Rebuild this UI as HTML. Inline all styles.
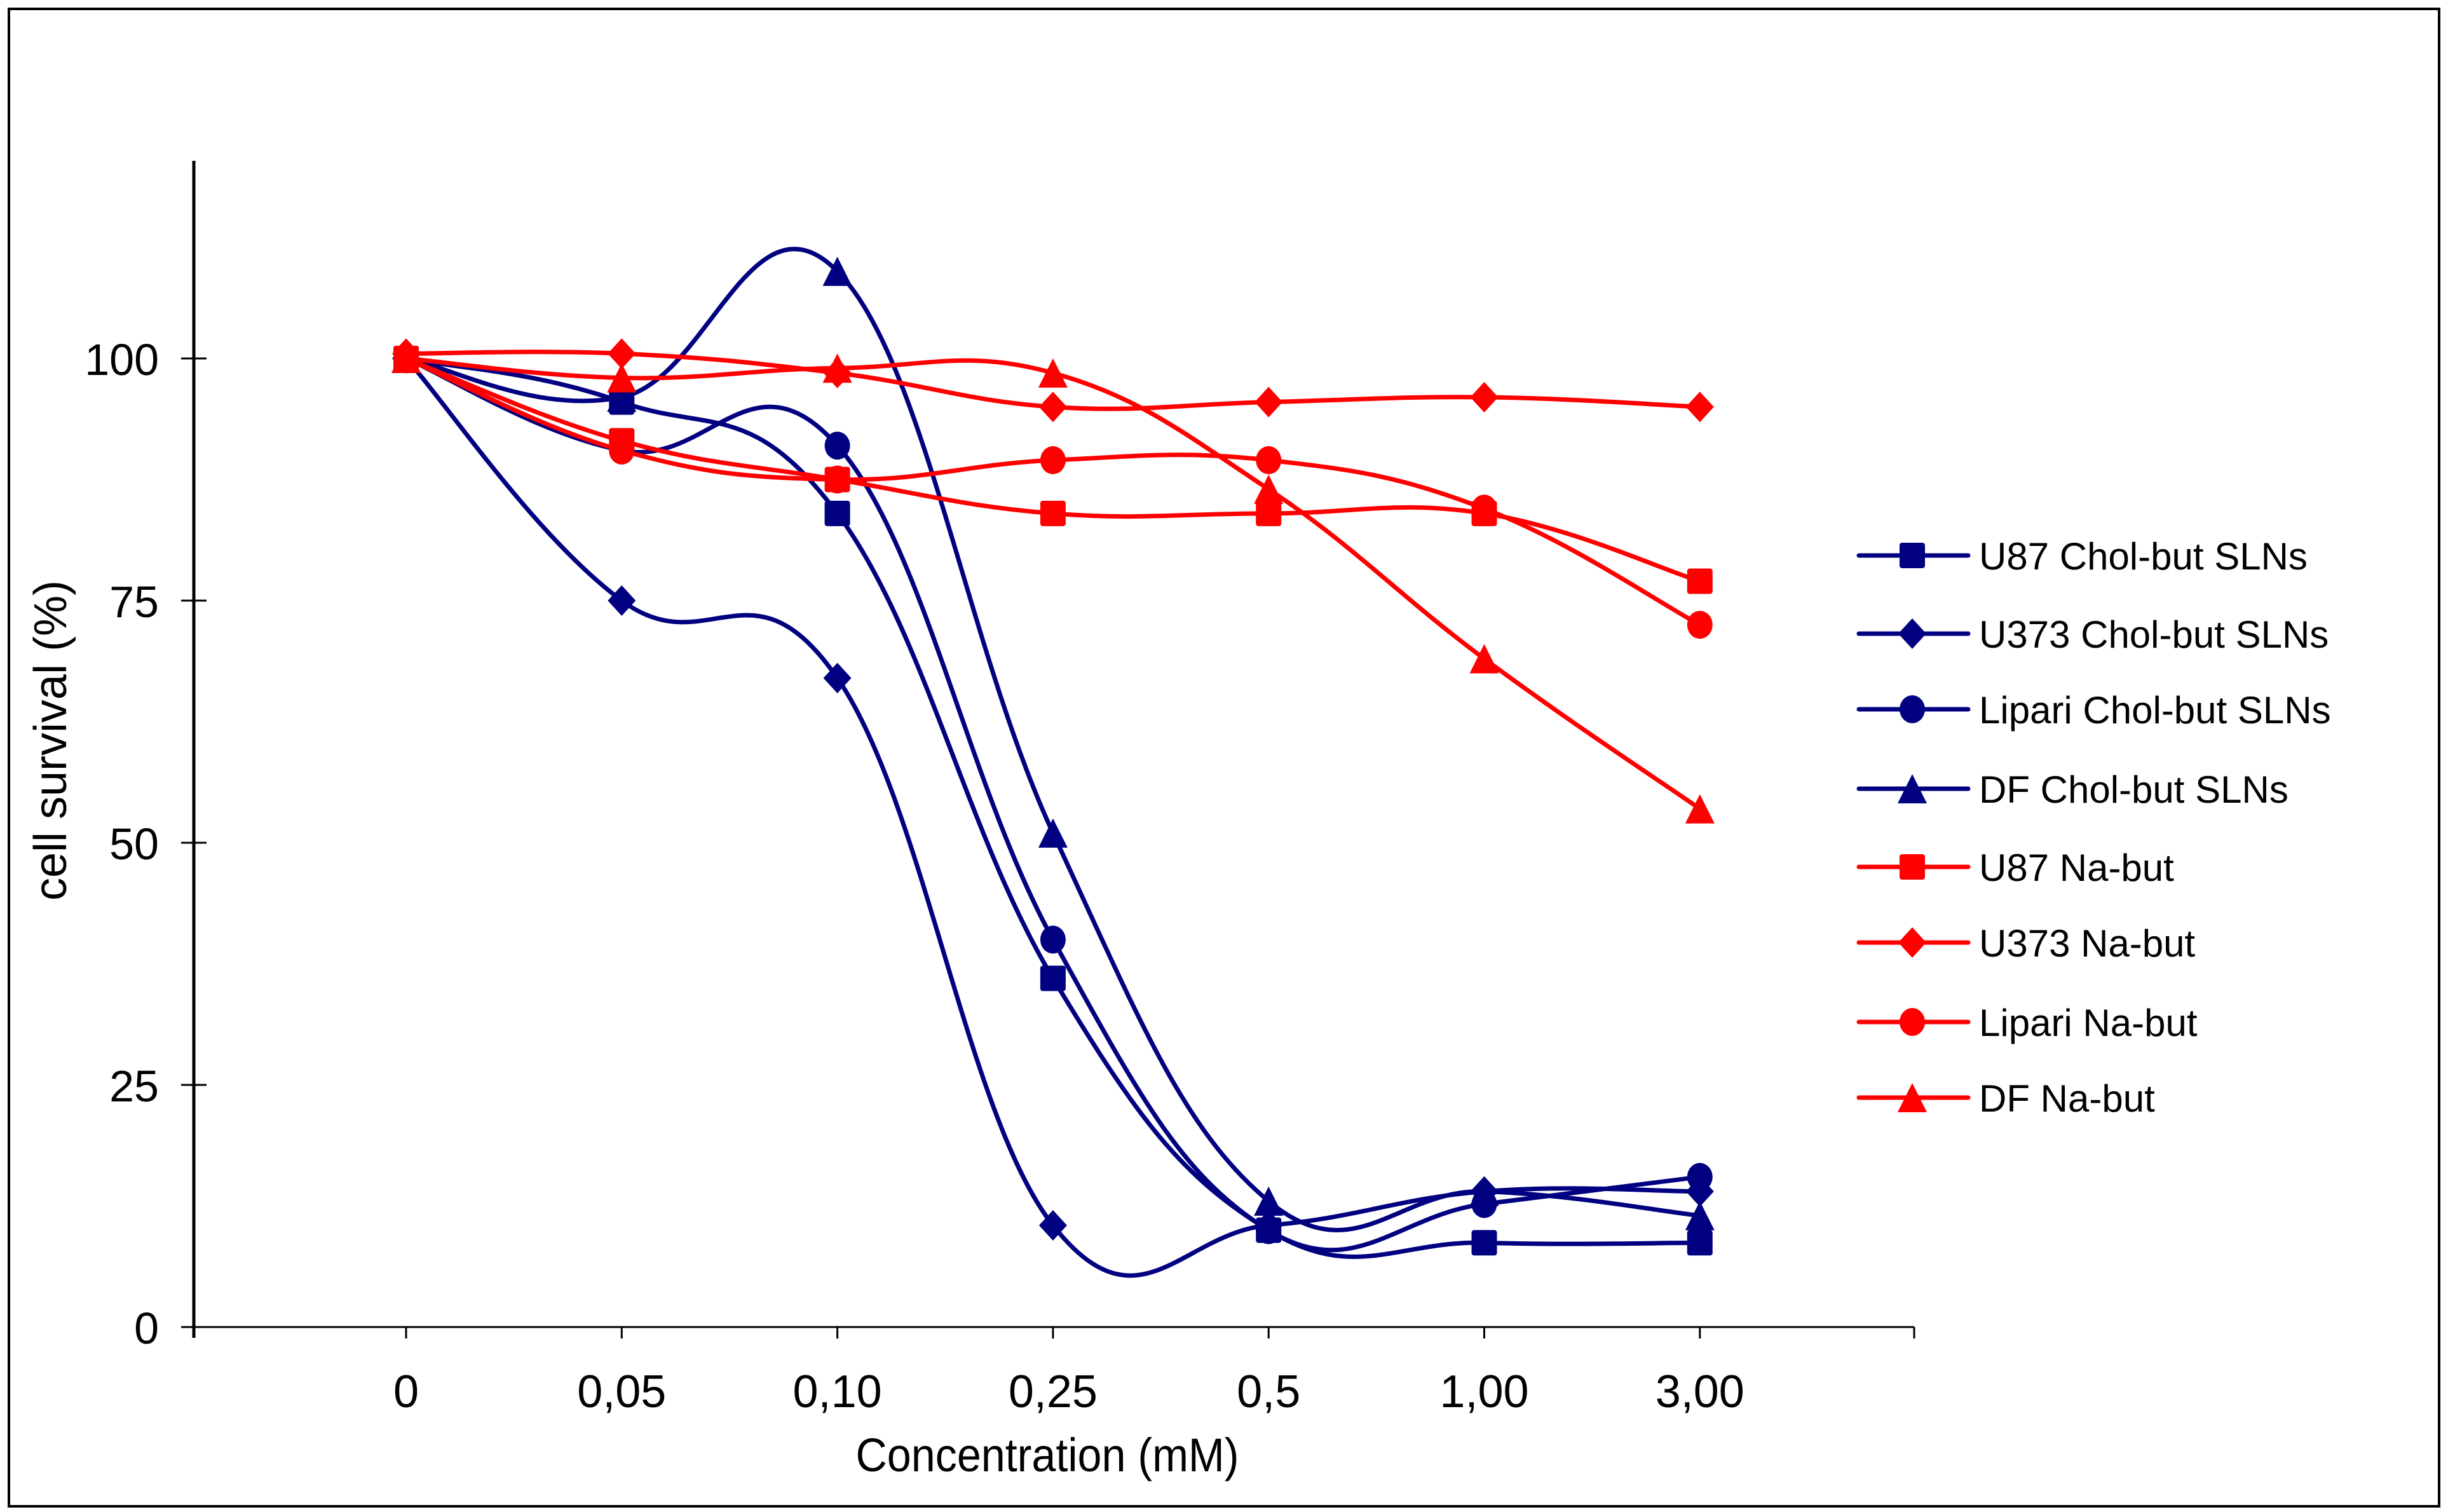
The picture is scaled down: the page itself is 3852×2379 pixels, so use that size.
<!DOCTYPE html>
<html><head><meta charset="utf-8"><style>
html,body{margin:0;padding:0;background:#fff;}
svg{display:block;font-family:"Liberation Sans",Arial,sans-serif;}
</style></head><body>
<svg id="chart" width="3852" height="2379" viewBox="0 0 3852 2379">
<rect x="14" y="14" width="3824" height="2356" fill="#fff" stroke="#000" stroke-width="4"/>
<g id="axes"></g><g id="series"></g><g id="legend"></g>
<text x="1648" y="2315" font-size="74" text-anchor="middle" textLength="603" lengthAdjust="spacingAndGlyphs">Concentration (mM)</text>
<text transform="translate(104,1165) rotate(-90)" font-size="72" text-anchor="middle">cell survival (%)</text>
</svg>
<script>
const categories = ["0","0,05","0,10","0,25","0,5","1,00","3,00"];
const yTicks = [0,25,50,75,100];
const seriesNames = ["U87 Chol-but SLNs","U373 Chol-but SLNs","Lipari Chol-but SLNs","DF Chol-but SLNs","U87 Na-but","U373 Na-but","Lipari Na-but","DF Na-but"];
const u87Chol = [100,95.5,84,36,10,8.7,8.7];
const u373Chol = [100,75,67,10.5,10.5,14,14];
const lipariChol = [100,90.5,91,40,10,12.7,15.5];
const dfChol = [100,96,109,51,13,14,11.5];
const u87Na = [100,91.5,87.5,84,84,84,77];
const u373Na = [100.5,100.5,98.5,95,95.5,96,95];
const lipariNa = [100,90.5,87.5,89.5,89.5,84.5,72.5];
const dfNa = [100,98,99,98.5,86.5,69,53.5];
const seriesValues = [u87Chol,u373Chol,lipariChol,dfChol,u87Na,u373Na,lipariNa,dfNa];
const markers = ["square","diamond","circle","triangle","square","diamond","circle","triangle"];
const colors = ["#000080","#000080","#000080","#000080","#ff0000","#ff0000","#ff0000","#ff0000"];

const NS="http://www.w3.org/2000/svg";
const X0=639, DX=339.3, Y0=2088, Y100=564;
function xs(i){return X0+i*DX;}
function ys(v){return Y0+(Y100-Y0)*v/100;}
function mk(tag,attrs,parent){const e=document.createElementNS(NS,tag);for(const k in attrs)e.setAttribute(k,attrs[k]);parent.appendChild(e);return e;}

const axes=document.getElementById('axes');
let l=mk('line',{x1:305,y1:253,x2:305,y2:2105,stroke:'#000','stroke-width':5},axes);


l=mk('line',{x1:285,y1:Y0,x2:3012,y2:Y0,stroke:'#000','stroke-width':3},axes);


yTicks.forEach(t=>{
  const tk=mk('line',{x1:285,y1:ys(t),x2:325,y2:ys(t),stroke:'#000','stroke-width':3},axes);
  
  
  const tx=mk('text',{x:250,y:ys(t)+26,'font-size':70,'text-anchor':'end'},axes);
  tx.textContent=t;
  
  
});
categories.forEach((c,i)=>{
  const tk=mk('line',{x1:xs(i),y1:Y0,x2:xs(i),y2:Y0+18,stroke:'#000','stroke-width':3},axes);
  
  
  const tx=mk('text',{x:xs(i),y:2214,'font-size':72,'text-anchor':'middle'},axes);
  tx.textContent=c;
  
  
});
const tk2=mk('line',{x1:3012,y1:Y0,x2:3012,y2:Y0+18,stroke:'#000','stroke-width':3},axes);



function smoothPath(pts){
  let d=`M${pts[0][0]},${pts[0][1]}`;
  for(let i=0;i<pts.length-1;i++){
    const p0=pts[Math.max(0,i-1)],p1=pts[i],p2=pts[i+1],p3=pts[Math.min(pts.length-1,i+2)];
    const t=1/5;
    const c1=[p1[0]+(p2[0]-p0[0])*t,p1[1]+(p2[1]-p0[1])*t];
    const c2=[p2[0]-(p3[0]-p1[0])*t,p2[1]-(p3[1]-p1[1])*t];
    d+=` C${c1[0]},${c1[1]} ${c2[0]},${c2[1]} ${p2[0]},${p2[1]}`;
  }
  return d;
}
function drawMarker(type,x,y,color,parent){
  const s=20;let e;
  if(type==='square') e=mk('rect',{x:x-s,y:y-s,width:2*s,height:2*s,rx:4,fill:color},parent);
  else if(type==='diamond') e=mk('polygon',{points:`${x},${y-s-4} ${x+s+2},${y} ${x},${y+s+4} ${x-s-2},${y}`,fill:color},parent);
  else if(type==='circle') e=mk('ellipse',{cx:x,cy:y,rx:s,ry:s+2,fill:color},parent);
  else e=mk('polygon',{points:`${x},${y-s-3} ${x+s+3},${y+s+3} ${x-s-3},${y+s+3}`,fill:color},parent);
  return e;
}
const sg=document.getElementById('series');
seriesValues.forEach((vals,si)=>{
  const g=mk('g',{},sg);
  
  
  const pts=vals.map((v,i)=>[xs(i),ys(v)]);
  const p=mk('path',{d:smoothPath(pts),fill:'none',stroke:colors[si],'stroke-width':7,'stroke-linejoin':'round'},g);
  
  
  pts.forEach(pt=>{
    const m=drawMarker(markers[si],pt[0],pt[1],colors[si],g);
    
    
  });
});
const lg=document.getElementById('legend');
const legY=[874,997,1116,1241,1364,1483,1608,1727];
seriesNames.forEach((n,i)=>{
  const g=mk('g',{},lg);
  
  
  mk('line',{x1:2925,y1:legY[i],x2:3097,y2:legY[i],stroke:colors[i],'stroke-width':7,'stroke-linecap':'round'},g);
  drawMarker(markers[i],3009,legY[i],colors[i],g);
  const t=mk('text',{x:3114,y:legY[i]+22,'font-size':60},g);
  t.textContent=n;
});
</script>
</body></html>
